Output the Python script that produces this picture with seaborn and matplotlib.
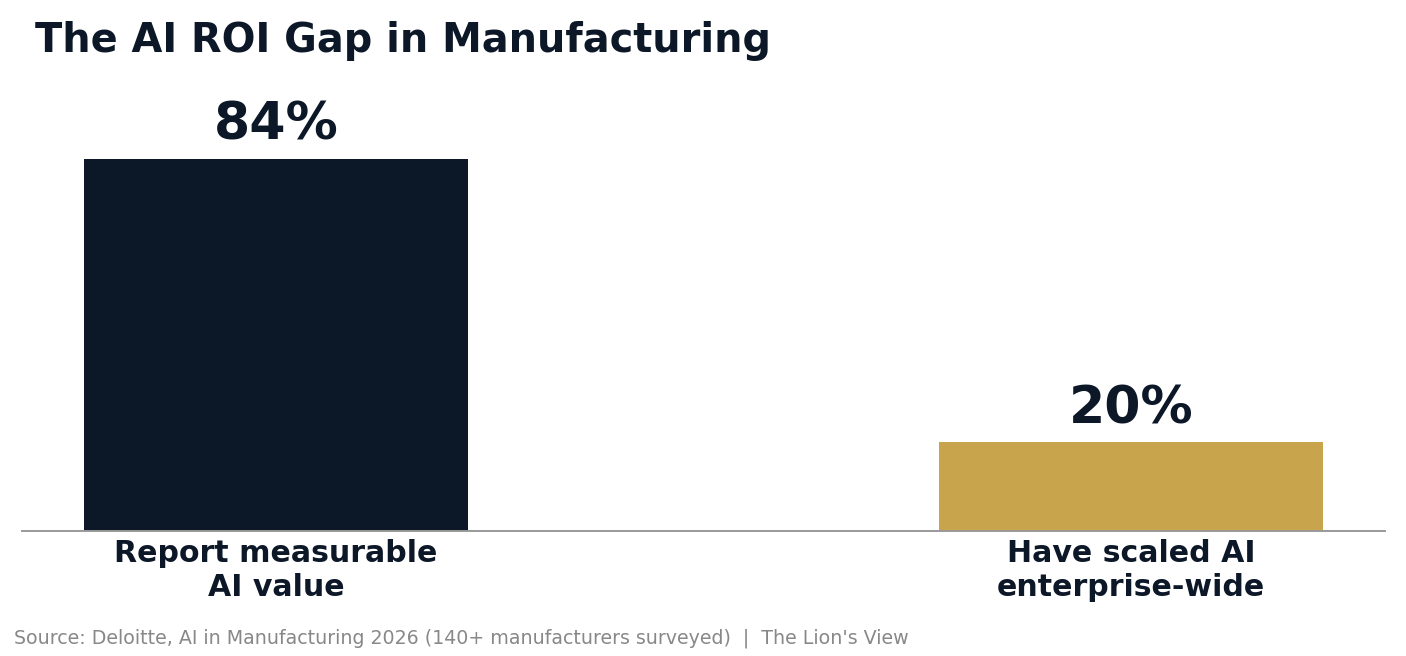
import numpy as np
import pandas as pd
import matplotlib
matplotlib.use('Agg')
import matplotlib.pyplot as plt
import seaborn as sns

# Data
categories = ['Report measurable\nAI value', 'Have scaled AI\nenterprise-wide']
values = [84, 20]
labels = ['84%', '20%']
bar_colors = ['#0C1727', '#C8A44C']

title = 'The AI ROI Gap in Manufacturing'
source = "Source: Deloitte, AI in Manufacturing 2026 (140+ manufacturers surveyed)  |  The Lion's View"

navy = '#0C1727'

sns.set_theme(style='white')
plt.rcParams['font.family'] = ['DejaVu Sans']

df = pd.DataFrame({'category': categories, 'value': values})

W, H = 1406, 656
fig = plt.figure(figsize=(W / 100, H / 100), dpi=100)
ax = fig.add_axes([22 / W, (H - 531) / H, 1363 / W, (531 - 88) / H])

sns.barplot(data=df, x='category', y='value', hue='category',
            palette=bar_colors, width=0.45, saturation=1, legend=False,
            linewidth=0, ax=ax)

ax.set_xlim(-0.297, 1.297)
ax.set_ylim(0, 100)

for i, (v, lab) in enumerate(zip(values, labels)):
    ax.annotate(lab, (i, v), xytext=(0, 6), textcoords='offset points',
                ha='center', va='bottom', fontsize=37.5, fontweight='bold', color=navy)

for s in ['top', 'right', 'left']:
    ax.spines[s].set_visible(False)
ax.spines['bottom'].set_color('#999999')
ax.spines['bottom'].set_linewidth(1.4)
ax.set_yticks([])
ax.set_xlabel('')
ax.set_ylabel('')
ax.tick_params(axis='x', length=0, pad=6)
for t in ax.get_xticklabels():
    t.set_fontsize(21.6)
    t.set_fontweight('bold')
    t.set_color(navy)
    t.set_linespacing(1.2)

fig.text(35 / W, 1 - 21 / H, title, ha='left', va='top',
         fontsize=28.7, fontweight='bold', color=navy)
fig.text(14 / W, 1 - 638 / H, source, ha='left', va='center',
         fontsize=13.7, color='#888888')

fig.savefig('out.png', dpi=100)
